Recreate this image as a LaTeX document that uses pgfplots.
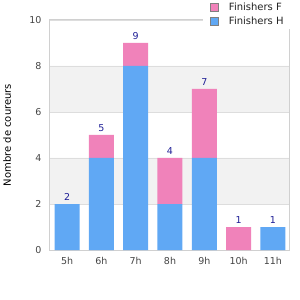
\documentclass[border=0pt]{standalone}
\usepackage{pgfplots}
\usepackage{pgfplotstable}
\pgfplotsset{compat=1.18}
\usepackage{fontspec}
\setmainfont{DejaVu Sans}
\definecolor{barH}{RGB}{96,168,244}
\definecolor{barF}{RGB}{240,130,186}
\definecolor{band}{RGB}{242,242,242}
\definecolor{gridc}{RGB}{221,221,221}
\definecolor{axisc}{RGB}{208,208,208}
\definecolor{tickc}{RGB}{68,68,68}
\definecolor{lab}{RGB}{30,30,150}
\definecolor{legtext}{RGB}{34,34,34}
\pgfplotstableread{
x H F T
0 2 0 2
1 4 1 5
2 8 1 9
3 2 2 4
4 4 3 7
5 0 1 1
6 1 0 1
}\data
\pgfplotsset{mylegend/.style={legend image code/.code={\draw[##1, draw=gray, line width=0.8pt] (0pt,-4pt) rectangle (8pt,4pt);}}}
\begin{document}
\begin{tikzpicture}[x=1pt,y=1pt]
% background bands
\begin{axis}[
  scale only axis, width=240pt, height=230pt,
  at={(0,0)}, anchor=south west,
  xmin=-0.5, xmax=6.5, ymin=0, ymax=10,
  hide axis,
]
\addplot[fill=band, draw=none] coordinates {(-0.5,2) (6.5,2) (6.5,4) (-0.5,4) (-0.5,2)};
\addplot[fill=band, draw=none] coordinates {(-0.5,6) (6.5,6) (6.5,8) (-0.5,8) (-0.5,6)};
\end{axis}
\begin{axis}[
  scale only axis, width=240pt, height=230pt,
  at={(0,0)}, anchor=south west,
  xmin=-0.5, xmax=6.5, ymin=0, ymax=10,
  xtick={0,...,6}, xticklabels={5h,6h,7h,8h,9h,10h,11h},
  ytick={0,2,4,6,8,10},
  /pgf/number format/assume math mode=true,
  ybar stacked, bar width=25pt,
  ymajorgrids, grid style={gridc, line width=0.8pt},
  axis line style={axisc, line width=1pt},
  major tick length=0pt,
  tick label style={font=\fontsize{9.5}{11}\selectfont, text=tickc},
  yticklabel style={xshift=-5pt},
  xticklabel style={yshift=-4pt},
  ylabel={Nombre de coureurs},
  ylabel style={font=\fontsize{9.5}{11}\selectfont, text=tickc},
  every axis y label/.style={at={(axis description cs:-0.179,0.5)}, rotate=90, anchor=center},
  reverse legend,
  legend style={at={(rel axis cs:0.6375,1.087)}, anchor=north west, draw=none, fill=white,
    font=\fontsize{10}{12}\selectfont, text=legtext, inner xsep=7pt, inner ysep=2pt,
    column sep=9pt, row sep=3pt, nodes={inner sep=1pt}},
  legend cell align=left,
]
\addplot[fill=barH, draw=none, mylegend] table[x=x,y=H]{\data};
\addlegendentry{Finishers H}
\addplot[fill=barF, draw=none, mylegend] table[x=x,y=F]{\data};
\addlegendentry{Finishers F}
\end{axis}
% value labels
\begin{axis}[
  scale only axis, width=240pt, height=230pt,
  at={(0,0)}, anchor=south west,
  xmin=-0.5, xmax=6.5, ymin=0, ymax=10,
  hide axis, clip=false,
  /pgf/number format/assume math mode=true,
]
\addplot[draw=none, mark=none, nodes near coords,
  every node near coord/.append style={anchor=south, font=\fontsize{9.5}{11}\selectfont, text=lab, inner sep=3pt}]
  table[x=x,y=T]{\data};
\end{axis}
\pgfresetboundingbox
\path[use as bounding box] (-50,-50) rectangle (250,250);
\end{tikzpicture}
\end{document}
